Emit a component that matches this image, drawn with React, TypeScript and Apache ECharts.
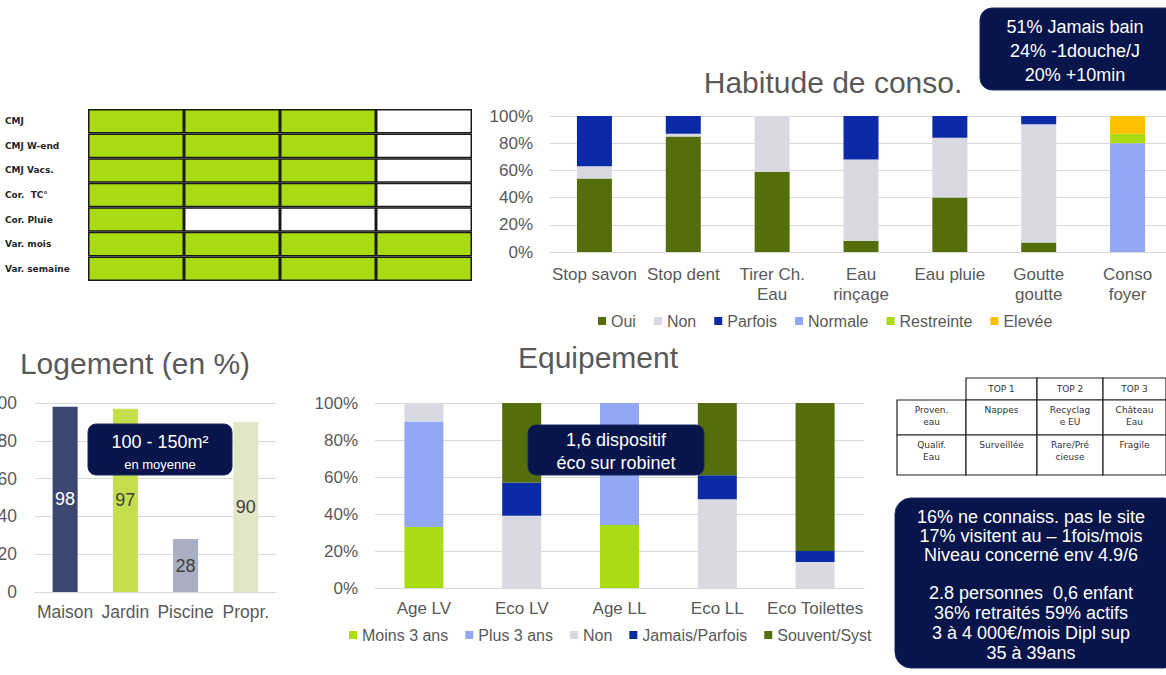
import React, { useEffect, useRef } from 'react';
import * as echarts from 'echarts';

// ---- Suivi consommation (grille de cases) ----
const suiviRows = ['CMJ', 'CMJ W-end', 'CMJ Vacs.', 'Cor.  TC°', 'Cor. Pluie', 'Var. mois', 'Var. semaine'];
const suiviFilled = [3, 3, 3, 3, 1, 4, 4];
const suiviColumns = 4;

// ---- Habitude de conso. (%) ----
const habitCategories = ['Stop savon', 'Stop dent', 'Tirer Ch.\nEau', 'Eau\nrinçage', 'Eau pluie', 'Goutte\ngoutte', 'Conso\nfoyer'];
const habitOui = [54, 85, 59, 8, 40, 7, 0];
const habitNon = [9, 2, 41, 60, 44, 87, 0];
const habitParfois = [37, 13, 0, 32, 16, 6, 0];
const habitNormale = [0, 0, 0, 0, 0, 0, 80];
const habitRestreinte = [0, 0, 0, 0, 0, 0, 7];
const habitElevee = [0, 0, 0, 0, 0, 0, 13];

// ---- Logement (en %) ----
const logementCategories = ['Maison', 'Jardin', 'Piscine', 'Propr.'];
const logementValues = [98, 97, 28, 90];

// ---- Equipement (%) ----
const equipCategories = ['Age LV', 'Eco LV', 'Age LL', 'Eco LL', 'Eco Toilettes'];
const equipMoins3 = [33, 0, 34, 0, 0];
const equipPlus3 = [57, 0, 66, 0, 0];
const equipNon = [10, 39, 0, 48, 14];
const equipJamais = [0, 18, 0, 13, 6];
const equipSouvent = [0, 43, 0, 39, 80];

// ---- Encadrés ----
const bainNotes = ['51% Jamais bain', '24% -1douche/J', '20% +10min'];
const siteNotes = ['16% ne connaiss. pas le site', '17% visitent au – 1fois/mois', 'Niveau concerné env 4.9/6'];
const profilNotes = ['2.8 personnes  0,6 enfant', '36% retraités 59% actifs', '3 à 4 000€/mois Dipl sup', '35 à 39ans'];
const surfaceNote = ['100 - 150m²', 'en moyenne'];
const robinetNote = ['1,6 dispositif', 'éco sur robinet'];

// ---- Tableau TOP ----
const topHeaders = ['TOP 1', 'TOP 2', 'TOP 3'];
const topRowLabels = ['Proven.\neau', 'Qualif.\nEau'];
const topRowCells = [
  ['Nappes', 'Recyclag\ne EU', 'Château\nEau'],
  ['Surveillée', 'Rare/Pré\ncieuse', 'Fragile'],
];

// styles
const FONT = '"Liberation Sans", Arial, sans-serif';
const GREY_TEXT = '#595959';
const GRID_LINE = '#D9D9D9';
const NAVY = '#08154A';
const LIME = '#AADC14';
const OLIVE = '#546E0C';
const LIGHT_GREY = '#D9D9E1';
const ROYAL = '#0B2BA6';
const PERIWINKLE = '#93A8F5';
const AMBER = '#FFC000';
const logementColors = ['#3C4670', '#C5DE4E', '#A9AEC2', '#DFE7C7'];
const logementLabelColors = ['#FFFFFF', '#404040', '#404040', '#404040'];

function txt(x: number, y: number, text: string, opts: any = {}) {
  return {
    type: 'text',
    x,
    y,
    z: 20,
    style: {
      text,
      fill: opts.fill ?? '#FFFFFF',
      fontSize: opts.fontSize ?? 18,
      fontFamily: opts.fontFamily ?? FONT,
      fontWeight: opts.fontWeight ?? 'normal',
      lineHeight: opts.lineHeight,
      align: opts.align ?? 'center',
      textAlign: opts.align ?? 'center',
      verticalAlign: opts.verticalAlign ?? 'middle',
      textVerticalAlign: opts.verticalAlign ?? 'middle',
    },
  };
}

function box(x: number, y: number, w: number, h: number, r: number) {
  return {
    type: 'rect',
    z: 15,
    shape: { x, y, width: w, height: h, r },
    style: { fill: NAVY, stroke: '#1b2a66', lineWidth: 1 },
  };
}

function buildTopTable() {
  const colEdges = [897, 966, 1037, 1103, 1166];
  const rowEdges = [378, 400, 435, 475];
  const els: any[] = [];
  const cellFont = { fill: '#333333', fontSize: 9, fontFamily: '"DejaVu Sans", sans-serif', lineHeight: 12 };
  const cell = (c: number, r: number) => ({
    type: 'rect',
    z: 10,
    shape: { x: colEdges[c], y: rowEdges[r], width: colEdges[c + 1] - colEdges[c], height: rowEdges[r + 1] - rowEdges[r] },
    style: { fill: '#FFFFFF', stroke: '#222222', lineWidth: 1.2 },
  });
  topHeaders.forEach((h, i) => {
    els.push(cell(i + 1, 0));
    els.push(txt((colEdges[i + 1] + colEdges[i + 2]) / 2, (rowEdges[0] + rowEdges[1]) / 2, h, cellFont));
  });
  topRowLabels.forEach((label, r) => {
    const row = [label, ...topRowCells[r]];
    row.forEach((t, c) => {
      els.push(cell(c, r + 1));
      els.push(txt((colEdges[c] + colEdges[c + 1]) / 2, rowEdges[r + 1] + 4, t, { ...cellFont, verticalAlign: 'top' }));
    });
  });
  return els;
}

const percentAxis = (gridIndex: number) => ({
  type: 'value',
  gridIndex,
  min: 0,
  max: 100,
  interval: 20,
  axisLine: { show: false },
  axisTick: { show: false },
  axisLabel: { formatter: '{value}%', color: GREY_TEXT, fontSize: 17, fontFamily: FONT, margin: 17 },
  splitLine: { lineStyle: { color: GRID_LINE, width: 1 } },
});

const categoryAxis = (gridIndex: number, data: string[], fontSize: number, margin: number) => ({
  type: 'category',
  gridIndex,
  data,
  axisLine: { lineStyle: { color: GRID_LINE, width: 1 } },
  axisTick: { show: false },
  axisLabel: { interval: 0, color: GREY_TEXT, fontSize, fontFamily: FONT, lineHeight: 20, margin },
});

export default function App() {
  const ref = useRef<HTMLDivElement>(null);

  useEffect(() => {
    if (!ref.current) return;
    const chart = echarts.init(ref.current, null, { renderer: 'svg' });

    const stackBar = (name: string, data: number[], color: string, stack: string, axisIndex: number, barWidth: number) => ({
      name,
      type: 'bar',
      stack,
      xAxisIndex: axisIndex,
      yAxisIndex: axisIndex,
      barWidth,
      data,
      itemStyle: { color },
    });

    const suiviSeries = Array.from({ length: suiviColumns }, (_, col) => ({
      name: 'suivi' + col,
      type: 'bar',
      stack: 'suivi',
      xAxisIndex: 0,
      yAxisIndex: 0,
      barWidth: '100%',
      silent: true,
      data: suiviFilled.map((n) => ({ value: 1, itemStyle: { color: col < n ? LIME : '#FFFFFF' } })),
      itemStyle: { borderColor: '#1a1a1a', borderWidth: 1.5 },
    }));

    const legendStyle = {
      icon: 'rect',
      itemWidth: 8,
      itemHeight: 8,
      itemGap: 18,
      textStyle: { color: GREY_TEXT, fontSize: 16, fontFamily: FONT },
    };

    const gridBase = { containLabel: false, outerBoundsMode: 'none' };

    chart.setOption({
      animation: false,
      backgroundColor: '#FFFFFF',
      grid: [
        { ...gridBase, left: 88, top: 109, width: 384, height: 172 },
        { ...gridBase, left: 550, top: 116, width: 622, height: 136 },
        { ...gridBase, left: 35, top: 403, width: 241, height: 189 },
        { ...gridBase, left: 375, top: 403, width: 489, height: 185 },
      ],
      xAxis: [
        { type: 'value', gridIndex: 0, min: 0, max: suiviColumns, show: false },
        categoryAxis(1, habitCategories, 17, 12),
        categoryAxis(2, logementCategories, 17.5, 10),
        categoryAxis(3, equipCategories, 17, 10),
      ],
      yAxis: [
        {
          type: 'category',
          gridIndex: 0,
          inverse: true,
          data: suiviRows,
          axisLine: { show: false },
          axisTick: { show: false },
          axisLabel: {
            align: 'left',
            margin: 83,
            color: '#262626',
            fontSize: 9,
            fontWeight: 'bold',
            fontFamily: '"DejaVu Sans", sans-serif',
          },
        },
        percentAxis(1),
        {
          ...percentAxis(2),
          axisLabel: { color: GREY_TEXT, fontSize: 17.5, fontFamily: FONT, margin: 18 },
        },
        percentAxis(3),
      ],
      legend: [
        {
          ...legendStyle,
          data: ['Oui', 'Non', 'Parfois', 'Normale', 'Restreinte', 'Elevée'],
          left: 593,
          top: 308,
        },
        {
          ...legendStyle,
          itemGap: 17,
          data: ['Moins 3 ans', 'Plus 3 ans', 'Non', 'Jamais/Parfois', 'Souvent/Syst'],
          left: 344,
          top: 622,
        },
      ],
      series: [
        ...suiviSeries,
        stackBar('Oui', habitOui, OLIVE, 'habit', 1, 35),
        stackBar('Non', habitNon, LIGHT_GREY, 'habit', 1, 35),
        stackBar('Parfois', habitParfois, ROYAL, 'habit', 1, 35),
        stackBar('Normale', habitNormale, PERIWINKLE, 'habit', 1, 35),
        stackBar('Restreinte', habitRestreinte, LIME, 'habit', 1, 35),
        stackBar('Elevée', habitElevee, AMBER, 'habit', 1, 35),
        {
          name: 'Logement',
          type: 'bar',
          xAxisIndex: 2,
          yAxisIndex: 2,
          barWidth: 25,
          data: logementValues.map((v, i) => ({
            value: v,
            itemStyle: { color: logementColors[i] },
            label: { color: logementLabelColors[i] },
          })),
          label: { show: true, position: 'inside', fontSize: 18, fontFamily: FONT },
        },
        stackBar('Moins 3 ans', equipMoins3, LIME, 'equip', 3, 39),
        stackBar('Plus 3 ans', equipPlus3, PERIWINKLE, 'equip', 3, 39),
        stackBar('Non', equipNon, LIGHT_GREY, 'equip', 3, 39),
        stackBar('Jamais/Parfois', equipJamais, ROYAL, 'equip', 3, 39),
        stackBar('Souvent/Syst', equipSouvent, OLIVE, 'equip', 3, 39),
      ],
      graphic: [
        // titres
        txt(833, 82, 'Habitude de conso.', { fill: GREY_TEXT, fontSize: 30 }),
        txt(135, 363, 'Logement (en %)', { fill: GREY_TEXT, fontSize: 30 }),
        txt(598, 357, 'Equipement', { fill: GREY_TEXT, fontSize: 30 }),
        // encadré bain / douche
        box(980, 8, 200, 82, 12),
        txt(1075, 51, bainNotes.join('\n'), { fontSize: 18, lineHeight: 24 }),
        // encadré surface
        box(88, 424, 144, 51, 8),
        txt(160, 442, surfaceNote[0], { fontSize: 18 }),
        txt(160, 464, surfaceNote[1], { fontSize: 13 }),
        // encadré robinet
        box(528, 425, 176, 50, 8),
        txt(616, 451, robinetNote.join('\n'), { fontSize: 18, lineHeight: 23 }),
        // encadré profil
        box(895, 498, 285, 170, 16),
        txt(1031, 536, siteNotes.join('\n'), { fontSize: 18, lineHeight: 19 }),
        txt(1031, 623, profilNotes.join('\n'), { fontSize: 18, lineHeight: 20 }),
        // tableau TOP
        ...buildTopTable(),
      ],
    });

    return () => chart.dispose();
  }, []);

  return (
    <div
      ref={ref}
      style={{ position: 'absolute', left: 0, top: 0, width: 1166, height: 675, background: '#FFFFFF' }}
    />
  );
}
